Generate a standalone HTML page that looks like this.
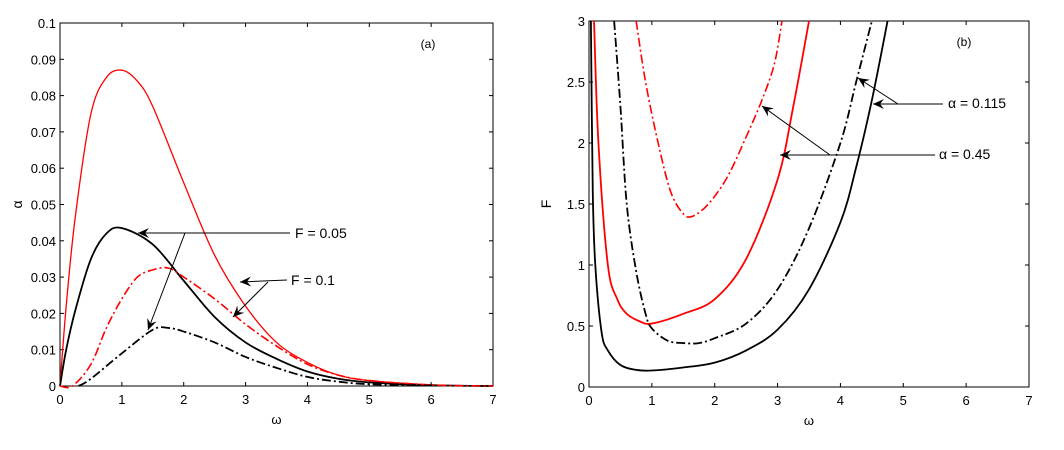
<!DOCTYPE html>
<html><head><meta charset="utf-8"><style>
body{margin:0;background:#fff;width:1064px;height:445px;overflow:hidden}
svg{font-family:"Liberation Sans",sans-serif}
</style></head><body>
<svg id="c" width="1064" height="445"></svg>
<script>
const xTicks=[0,1,2,3,4,5,6,7];
const leftYTicks=[0,0.01,0.02,0.03,0.04,0.05,0.06,0.07,0.08,0.09,0.1];
const leftYLabels=["0","0.01","0.02","0.03","0.04","0.05","0.06","0.07","0.08","0.09","0.1"];
const rightYTicks=[0,0.5,1,1.5,2,2.5,3];
const rightYLabels=["0","0.5","1","1.5","2","2.5","3"];
// panel (a): omega vs alpha
const aRedSolidX=[0,0.1,0.25,0.5,0.75,1,1.25,1.5,2,2.5,3,3.5,4,4.5,5,6,7];
const aRedSolidY=[0,0.022,0.047,0.075,0.085,0.087,0.084,0.077,0.056,0.036,0.022,0.012,0.0065,0.003,0.0015,0.0003,0];
const aBlackSolidX=[0,0.1,0.25,0.5,0.75,1,1.5,2,2.5,3,3.5,4,4.5,5,6,7];
const aBlackSolidY=[0,0.01,0.021,0.035,0.042,0.0435,0.039,0.029,0.019,0.012,0.0075,0.004,0.002,0.001,0.0002,0];
const aRedDashX=[0,0.2,0.5,0.75,1,1.25,1.5,1.75,2,2.5,3,3.5,4,4.5,5,6,7];
const aRedDashY=[0,0,0.006,0.016,0.024,0.03,0.032,0.0325,0.03,0.024,0.017,0.011,0.006,0.003,0.0015,0.0003,0];
const aBlackDashX=[0.3,0.5,1,1.5,1.75,2,2.5,3,3.5,4,4.5,5,6];
const aBlackDashY=[0,0.002,0.009,0.0155,0.016,0.015,0.012,0.008,0.005,0.0025,0.0012,0.0005,0.0001];
// panel (b): omega vs F
const bBlackSolidX=[0.03,0.06,0.1,0.2,0.3,0.5,0.75,1,1.5,2,2.5,3,3.5,4,4.25,4.5,4.75];
const bBlackSolidY=[3,1.6,1.0,0.45,0.3,0.18,0.14,0.135,0.16,0.2,0.3,0.47,0.8,1.35,1.8,2.35,3];
const bRedSolidX=[0.08,0.15,0.3,0.45,0.6,0.8,1,1.5,2,2.5,3,3.25,3.5];
const bRedSolidY=[3,2,1.0,0.72,0.6,0.54,0.52,0.6,0.72,1.05,1.7,2.3,3];
const bBlackDashX=[0.4,0.5,0.6,0.75,0.9,1,1.25,1.5,1.75,2,2.5,3,3.5,4,4.25,4.5];
const bBlackDashY=[3,2.3,1.5,0.95,0.6,0.48,0.38,0.36,0.36,0.4,0.52,0.8,1.3,2.0,2.5,3];
const bRedDashX=[0.75,0.9,1.1,1.3,1.5,1.65,1.9,2.2,2.5,2.75,2.95,3.07];
const bRedDashY=[3,2.5,2.0,1.6,1.42,1.4,1.5,1.72,2.05,2.35,2.65,3];

const svg=document.getElementById('c');
const NS='http://www.w3.org/2000/svg';
function mk(t,a,p){const e=document.createElementNS(NS,t);for(const k in a)e.setAttribute(k,a[k]);(p||svg).appendChild(e);return e;}
function panel(name,x0,x1,y0,y1,ymax,yT,yL,ylab,tag){
  const g=mk('g',{});
  
  
  const sx=v=>x0+(x1-x0)*v/7, sy=v=>y1-(y1-y0)*v/ymax;
  const box=mk('rect',{x:x0,y:y0,width:x1-x0,height:y1-y0,fill:'none',stroke:'#000','stroke-width':1},g);
  
  xTicks.forEach(v=>{const X=sx(v);
    mk('line',{x1:X,y1:y1,x2:X,y2:y1-4,stroke:'#000'},g);mk('line',{x1:X,y1:y0,x2:X,y2:y0+4,stroke:'#000'},g);
    const t=mk('text',{x:X,y:y1+18,'text-anchor':'middle','font-size':13},g);t.textContent=v;
    });
  yT.forEach((v,i)=>{const Y=sy(v);
    mk('line',{x1:x0,y1:Y,x2:x0+4,y2:Y,stroke:'#000'},g);mk('line',{x1:x1,y1:Y,x2:x1-4,y2:Y,stroke:'#000'},g);
    const t=mk('text',{x:x0-4,y:Y+5,'text-anchor':'end','font-size':13},g);t.textContent=yL[i];
    });
  const xl=mk('text',{x:(x0+x1)/2,y:y1+38,'text-anchor':'middle','font-size':13},g);xl.textContent='ω';
  
  const yl=mk('text',{x:x0-38,y:(y0+y1)/2,'text-anchor':'middle','font-size':14,transform:`rotate(-90 ${x0-38} ${(y0+y1)/2})`},g);yl.textContent=ylab;
  
  const tg=mk('text',{x:x1-65,y:y0+25,'text-anchor':'middle','font-size':12},g);tg.textContent=tag;
  
  return {g,sx,sy,x0,x1,y0,y1};
}
function curve(P,xs,ys,color,dash,name,w){
  const pts=xs.map((x,i)=>[P.sx(x),P.sy(ys[i])]);
  let d='M'+pts[0][0]+','+pts[0][1];
  for(let i=0;i<pts.length-1;i++){const p0=pts[i-1]||pts[i],p1=pts[i],p2=pts[i+1],p3=pts[i+2]||p2;
    d+=`C${p1[0]+(p2[0]-p0[0])/6},${p1[1]+(p2[1]-p0[1])/6} ${p2[0]-(p3[0]-p1[0])/6},${p2[1]-(p3[1]-p1[1])/6} ${p2[0]},${p2[1]}`;}
  const a={d:d,fill:'none',stroke:color,'stroke-width':w};
  if(dash)a['stroke-dasharray']='9,3,2,3';
  const e=mk('path',a,P.g);
  
}
function arrow(x1,y1,x2,y2,name){
  const l=mk('line',{x1,y1,x2,y2,stroke:'#000','stroke-width':1});
  
  const a=Math.atan2(y2-y1,x2-x1),L=11,W=5;
  const bx=x2-L*Math.cos(a),by=y2-L*Math.sin(a),mx=x2-7*Math.cos(a),my=y2-7*Math.sin(a);
  const h=mk('polygon',{points:`${x2},${y2} ${bx+W*Math.sin(a)},${by-W*Math.cos(a)} ${mx},${my} ${bx-W*Math.sin(a)},${by+W*Math.cos(a)}`,fill:'#000'});
  
}
function label(x,y,s,name){const t=mk('text',{x,y:y+5,'font-size':14});t.textContent=s;
  }

const A=panel('panel-a',60,493,23,386,0.1,leftYTicks,leftYLabels,'α','(a)');
curve(A,aRedSolidX,aRedSolidY,'#f00',false,'curve-red-solid',1.3);
curve(A,aBlackSolidX,aBlackSolidY,'#000',false,'curve-black-solid',1.8);
curve(A,aRedDashX,aRedDashY,'#f00',true,'curve-red-dashdot',1.6);
curve(A,aBlackDashX,aBlackDashY,'#000',true,'curve-black-dashdot',1.8);
const B=panel('panel-b',589,1029,21,387,3,rightYTicks,rightYLabels,'F','(b)');
curve(B,bBlackSolidX,bBlackSolidY,'#000',false,'curve-black-solid',1.8);
curve(B,bRedSolidX,bRedSolidY,'#f00',false,'curve-red-solid',1.8);
curve(B,bBlackDashX,bBlackDashY,'#000',true,'curve-black-dashdot',1.8);
curve(B,bRedDashX,bRedDashY,'#f00',true,'curve-red-dashdot',1.6);

arrow(290,233,138,233,'annotation-line');arrow(185,233,148,330,'annotation-line');
label(295,233,'F = 0.05','annotation-f-005');
arrow(287,280,240,282,'annotation-line');arrow(268,282,233,317,'annotation-line');
label(291,280,'F =  0.1','annotation-f-01');
arrow(943,104,873,104,'annotation-line');arrow(898,104,858,78,'annotation-line');
label(948,103,'α = 0.115','annotation-alpha-0115');
arrow(935,155,780,155,'annotation-line');arrow(830,155,762,106,'annotation-line');
label(939,154,'α =  0.45','annotation-alpha-045');
</script>
</body></html>
